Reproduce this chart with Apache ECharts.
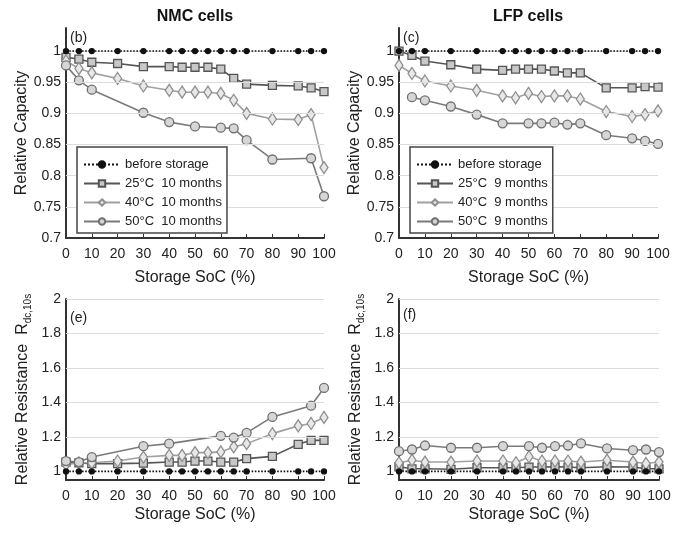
<!DOCTYPE html>
<html><head><meta charset="utf-8">
<script src="https://cdn.jsdelivr.net/npm/echarts@6/dist/echarts.min.js"></script>
<style>html,body{margin:0;padding:0;background:#fff}#c{width:681px;height:534px}</style>
</head><body><div id="c"></div>
<script>
// ---- data ----
const socAll = [0,5,10,20,30,40,45,50,55,60,65,70,80,90,95,100];
const beforeStorage = [1,1,1,1,1,1,1,1,1,1,1,1,1,1,1,1];

const nmcCap25 = [0.990,0.987,0.982,0.980,0.975,0.975,0.974,0.974,0.974,0.971,0.956,0.947,0.945,0.944,0.941,0.935];
const nmcCap40 = [0.984,0.972,0.965,0.956,0.944,0.937,0.934,0.934,0.934,0.932,0.921,0.900,0.891,0.890,0.898,0.813];
const nmcCap50X = [0,5,10,30,40,50,60,65,70,80,95,100];
const nmcCap50 = [0.977,0.953,0.938,0.901,0.886,0.879,0.877,0.876,0.857,0.826,0.828,0.767];

const lfpCap25 = [1.000,0.993,0.984,0.978,0.971,0.969,0.971,0.971,0.971,0.968,0.965,0.965,0.941,0.941,0.943,0.942];
const lfpCap40 = [0.977,0.964,0.952,0.944,0.937,0.928,0.925,0.932,0.927,0.928,0.928,0.923,0.903,0.895,0.898,0.904];
const lfpCap50X = [5,10,20,30,40,50,55,60,65,70,80,90,95,100];
const lfpCap50 = [0.926,0.921,0.911,0.898,0.884,0.884,0.884,0.885,0.882,0.884,0.865,0.860,0.856,0.851];

const nmcRes25 = [1.054,1.049,1.045,1.045,1.048,1.054,1.054,1.060,1.060,1.054,1.054,1.074,1.087,1.157,1.180,1.180];
const nmcRes40 = [1.039,1.050,1.050,1.060,1.083,1.093,1.093,1.109,1.109,1.113,1.142,1.161,1.219,1.264,1.278,1.313];
const nmcRes50X = [0,5,10,30,40,60,65,70,80,95,100];
const nmcRes50 = [1.060,1.054,1.083,1.146,1.161,1.206,1.196,1.223,1.316,1.381,1.484];

const lfpRes25 = [1.027,1.015,1.015,1.012,1.021,1.021,1.021,1.025,1.025,1.027,1.025,1.021,1.027,1.025,1.015,1.015];
const lfpRes40 = [1.050,1.065,1.054,1.054,1.060,1.060,1.050,1.085,1.060,1.060,1.060,1.054,1.065,1.054,1.046,1.054];
const lfpRes50X = [0,5,10,20,30,40,50,55,60,65,70,80,90,95,100];
const lfpRes50 = [1.117,1.127,1.150,1.137,1.137,1.146,1.146,1.137,1.146,1.150,1.162,1.133,1.123,1.127,1.112];

const capGridVals = [0.75,0.8,0.85,0.9,0.95,1.0];
const resGridVals = [1.2,1.4,1.6,1.8,2.0];

const nmcNames = ['before storage','25°C  10 months','40°C  10 months','50°C  10 months'];
const lfpNames = ['before storage','25°C  9 months','40°C  9 months','50°C  9 months'];

// ---- chart ----
const FONT = 'Liberation Sans, Arial, sans-serif';
const pairs = (xs, ys) => xs.map((x, i) => [x, ys[i]]);

const styles = {
  before: {line:{type:'dotted', width:1.6, color:'#111'}, symbol:'circle', size:5, fill:'#111', border:'#111'},
  t25: {line:{type:'solid', width:1.6, color:'#555'}, symbol:'rect', size:8, fill:'#c8c8c8', border:'#555'},
  t40: {line:{type:'solid', width:1.6, color:'#a0a0a0'}, symbol:'diamond', size:[8,12], fill:'#e8e8e8', border:'#8e8e8e'},
  t50: {line:{type:'solid', width:1.6, color:'#7a7a7a'}, symbol:'circle', size:9, fill:'#d6d6d6', border:'#707070'}
};

function ser(name, data, idx, st, z) {
  return {
    type:'line', name, data, xAxisIndex:idx, yAxisIndex:idx,
    symbol:st.symbol, symbolSize:st.size, z:z||3,
    lineStyle:st.line,
    itemStyle:{color:st.fill, borderColor:st.border, borderWidth:1.3},
    emphasis:{disabled:true}, animation:false
  };
}
function gridSer(idx, vals) {
  return {
    type:'line', name:'grid'+idx, data:vals.map(v => [0, v]), xAxisIndex:idx, yAxisIndex:idx, z:1,
    silent:true, animation:false, symbol:'none', lineStyle:{opacity:0},
    markLine:{silent:true, symbol:['none','none'], label:{show:false}, animation:false,
      lineStyle:{color:'#dcdcdc', type:'solid', width:1},
      data: vals.map(v => ({yAxis:v}))}
  };
}

const grids = [
  {left:66, top:28, width:258, height:210},
  {left:399, top:28, width:259, height:210},
  {left:66, top:299, width:258, height:181},
  {left:399, top:299, width:260, height:181}
];

const axisLineStyle = {lineStyle:{color:'#333', width:2}};
function xAx(i, gap) {
  return {type:'value', gridIndex:i, min:0, max:100, interval:10,
    name:'Storage SoC (%)', nameLocation:'middle', nameGap:gap,
    nameTextStyle:{fontFamily:FONT, fontSize:16, color:'#222'},
    axisLine:axisLineStyle, axisTick:{inside:true, length:4, lineStyle:{color:'#333'}},
    axisLabel:{fontFamily:FONT, fontSize:14, color:'#222', margin:9},
    splitLine:{show:false}};
}
const capFmt = v => Math.abs(v*20 - Math.round(v*20)) < 1e-6 ? String(+v.toFixed(2)) : '';
const resFmt = v => Math.abs(v*5 - Math.round(v*5)) < 1e-6 ? String(+v.toFixed(1)) : '';
function yCap(i) {
  return {type:'value', gridIndex:i, min:0.7, max:1.037, interval:0.05,
    name:'Relative Capacity', nameLocation:'middle', nameGap:33,
    nameTextStyle:{fontFamily:FONT, fontSize:16, color:'#222'},
    axisLine:{show:true, ...axisLineStyle}, axisTick:{show:true, inside:true, length:4, lineStyle:{color:'#333'}},
    axisLabel:{fontFamily:FONT, fontSize:14, color:'#222', margin:5, formatter:capFmt, showMaxLabel:false},
    splitLine:{show:false}};
}
function yRes(i) {
  return {type:'value', gridIndex:i, min:0.95, max:2.0, interval:0.05,
    name:'Relative Resistance  R{s|dc,10s}', nameLocation:'middle', nameGap:33,
    nameTextStyle:{fontFamily:FONT, fontSize:16, color:'#222',
      rich:{s:{fontFamily:FONT, fontSize:10, color:'#222', padding:[10,0,0,0]}}},
    axisLine:{show:true, ...axisLineStyle}, axisTick:{show:false},
    axisLabel:{fontFamily:FONT, fontSize:14, color:'#222', margin:5, formatter:resFmt},
    splitLine:{show:false}};
}

const series = [
  gridSer(0, capGridVals), gridSer(1, capGridVals), gridSer(2, resGridVals), gridSer(3, resGridVals),
  ser(nmcNames[1], pairs(socAll, nmcCap25), 0, styles.t25),
  ser(nmcNames[2], pairs(socAll, nmcCap40), 0, styles.t40),
  ser(nmcNames[3], pairs(nmcCap50X, nmcCap50), 0, styles.t50),
  ser(nmcNames[0], pairs(socAll, beforeStorage), 0, styles.before, 5),
  ser(lfpNames[1], pairs(socAll, lfpCap25), 1, styles.t25),
  ser(lfpNames[2], pairs(socAll, lfpCap40), 1, styles.t40),
  ser(lfpNames[3], pairs(lfpCap50X, lfpCap50), 1, styles.t50),
  ser(lfpNames[0], pairs(socAll, beforeStorage), 1, styles.before, 5),
  ser(nmcNames[1], pairs(socAll, nmcRes25), 2, styles.t25),
  ser(nmcNames[2], pairs(socAll, nmcRes40), 2, styles.t40),
  ser(nmcNames[3], pairs(nmcRes50X, nmcRes50), 2, styles.t50),
  ser(nmcNames[0], pairs(socAll, beforeStorage), 2, styles.before, 5),
  ser(lfpNames[1], pairs(socAll, lfpRes25), 3, styles.t25),
  ser(lfpNames[2], pairs(socAll, lfpRes40), 3, styles.t40),
  ser(lfpNames[3], pairs(lfpRes50X, lfpRes50), 3, styles.t50),
  ser(lfpNames[0], pairs(socAll, beforeStorage), 3, styles.before, 5)
];

function legend(names, left) {
  return {data:names, left, top:147, orient:'vertical', itemWidth:36, itemHeight:8, itemGap:4,
    padding:[10,5,4,6], borderColor:'#444', borderWidth:1.5, backgroundColor:'#fff',
    selectedMode:false, z:10,
    textStyle:{fontFamily:FONT, fontSize:13, color:'#222', lineHeight:15}};
}

const txt = (x, y, s) => ({type:'text', left:x, top:y, z:20,
  style:{text:s, fontFamily:FONT, fontSize:14, fill:'#222'}});

const option = {
  backgroundColor:'#fff', animation:false,
  grid:grids,
  xAxis:[xAx(0,32), xAx(1,32), xAx(2,27), xAx(3,27)],
  yAxis:[yCap(0), yCap(1), yRes(2), yRes(3)],
  legend:[legend(nmcNames, 77), legend(lfpNames, 410)],
  series,
  graphic:[
    {type:'text', x:195, y:17, z:20, style:{text:'NMC cells', fontFamily:FONT, fontSize:16, fontWeight:'bold', fill:'#111', align:'center', verticalAlign:'middle'}},
    {type:'text', x:528, y:17, z:20, style:{text:'LFP cells', fontFamily:FONT, fontSize:16, fontWeight:'bold', fill:'#111', align:'center', verticalAlign:'middle'}},
    txt(70, 31, '(b)'), txt(403, 31, '(c)'), txt(70, 311, '(e)'), txt(403, 308, '(f)')
  ]
};
echarts.init(document.getElementById('c'), null, {renderer:'canvas'}).setOption(option);
</script></body></html>
